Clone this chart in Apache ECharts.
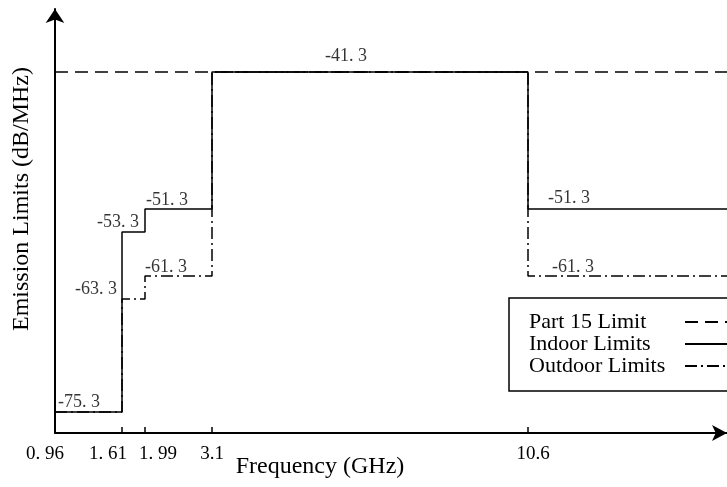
<!DOCTYPE html>
<html>
<head>
<meta charset="utf-8">
<script src="https://cdn.jsdelivr.net/npm/echarts@6/dist/echarts.min.js"></script>
<style>
  html, body { margin: 0; padding: 0; background: #fff; }
  #chart { width: 727px; height: 487px; }
</style>
</head>
<body>
<div id="chart"></div>
<script>
// UWB emission mask: band edges (GHz) and limit levels (dB/MHz) per band
const bandEdges = [0.96, 1.61, 1.99, 3.1, 10.6, 14];
const part15Limit = -41.3;
const indoorLevels = [-75.3, -53.3, -51.3, -41.3, -51.3];
const outdoorLevels = [-75.3, -63.3, -61.3, -41.3, -61.3];
const tickFreqs = [0.96, 1.61, 1.99, 3.1, 10.6];
const tickLabels = ['0. 96', '1. 61', '1. 99', '3.1', '10.6'];
const seriesNames = ['Part 15 Limit', 'Indoor Limits', 'Outdoor Limits'];

// Schematic (non-proportional) scales: each labelled band edge / level gets its own spacing
const xScale = { ghz: [0.96, 1.61, 1.99, 3.1, 10.6, 14], unit: [0, 67, 90, 157, 473, 672] };
const yScale = { db: [-77.5, -75.3, -63.3, -61.3, -53.3, -51.3, -41.3, -36.7], unit: [0, 21, 134, 157, 201, 224, 361, 424] };

function piecewise(from, to, v) {
  let i = 0;
  while (i < from.length - 2 && v > from[i + 1]) i++;
  const t = (v - from[i]) / (from[i + 1] - from[i]);
  return to[i] + t * (to[i + 1] - to[i]);
}
const X = f => piecewise(xScale.ghz, xScale.unit, f);
const Y = d => piecewise(yScale.db, yScale.unit, d);

function stepLine(levels) {
  const pts = [];
  levels.forEach((lv, i) => {
    pts.push([X(bandEdges[i]), Y(lv)]);
    pts.push([X(bandEdges[i + 1]), Y(lv)]);
  });
  return pts;
}
const fmtLevel = v => v.toFixed(1).replace('.', '. ');

const FONT = '"Liberation Serif", "Times New Roman", serif';

// Where each level annotation sits relative to its band corner
const levelNotes = [
  { f: bandEdges[0], v: indoorLevels[0],  align: 'left',  dx: 3,   dy: -10 },
  { f: bandEdges[1], v: outdoorLevels[1], align: 'right', dx: -5,  dy: -10 },
  { f: bandEdges[2], v: indoorLevels[1],  align: 'right', dx: -6,  dy: -10 },
  { f: bandEdges[2], v: indoorLevels[2],  align: 'left',  dx: 1,   dy: -9 },
  { f: bandEdges[2], v: outdoorLevels[2], align: 'left',  dx: 0,   dy: -9 },
  { f: bandEdges[3], v: part15Limit,      align: 'left',  dx: 113, dy: -16 },
  { f: bandEdges[4], v: indoorLevels[4],  align: 'left',  dx: 20,  dy: -11 },
  { f: bandEdges[4], v: outdoorLevels[4], align: 'left',  dx: 24,  dy: -9 }
];

// Tick-label nudges along the axis (rich padding shifts each label sideways)
const tickRich = {
  t0: { padding: [0, 20, 0, 0] },
  t1: { padding: [0, 28, 0, 0] },
  t2: { padding: [0, 0, 0, 26] },
  t3: { padding: [0, 0, 0, 0] },
  t4: { padding: [0, 0, 0, 10] }
};
Object.values(tickRich).forEach(s => { s.fontFamily = FONT; s.fontSize = 19; s.color = '#000'; });

const chart = echarts.init(document.getElementById('chart'), null, { renderer: 'canvas' });

chart.setOption({
  animation: false,
  backgroundColor: '#fff',
  grid: { left: 55, right: 0, top: 9, bottom: 54, outerBoundsMode: 'none' },
  xAxis: {
    type: 'value', min: 0, max: X(bandEdges[bandEdges.length - 1]),
    splitLine: { show: false },
    axisLine: { show: true, lineStyle: { color: '#000', width: 2 }, symbol: ['none', 'arrow'], symbolSize: [12, 15] },
    axisTick: { show: true, inside: true, length: 6, customValues: tickFreqs.slice(1).map(X), lineStyle: { color: '#000', width: 1.5 } },
    axisLabel: {
      customValues: tickFreqs.map(X), margin: 12,
      formatter: val => {
        const i = tickFreqs.findIndex(f => Math.abs(X(f) - val) < 1e-6);
        return i < 0 ? '' : '{t' + i + '|' + tickLabels[i] + '}';
      },
      rich: tickRich
    },
    name: 'Frequency (GHz)', nameLocation: 'middle', nameGap: 22, nameMoveOverlap: false,
    nameTextStyle: { fontFamily: FONT, fontSize: 24, color: '#000', padding: [0, 142, 0, 0] }
  },
  yAxis: {
    type: 'value', min: 0, max: 424,
    splitLine: { show: false },
    axisLine: { show: true, lineStyle: { color: '#000', width: 2 }, symbol: ['none', 'arrow'], symbolSize: [14, 14] },
    axisTick: { show: false },
    axisLabel: { show: false },
    name: 'Emission Limits (dB/MHz)', nameLocation: 'middle', nameGap: 21, nameMoveOverlap: false,
    nameTextStyle: { fontFamily: FONT, fontSize: 24, color: '#000', padding: [0, 0, 0, 44] }
  },
  legend: {
    data: seriesNames,
    orient: 'vertical', left: 509, top: 298,
    align: 'right',
    itemWidth: 45, itemHeight: 10, itemGap: 0,
    padding: [13, 10, 14, 20],
    borderColor: '#000', borderWidth: 1.5,
    selectedMode: false,
    itemStyle: { opacity: 0 },
    formatter: name => '{n|' + name + '}',
    textStyle: {
      fontFamily: FONT, fontSize: 22, color: '#000', lineHeight: 21.5,
      rich: { n: { width: 151, align: 'left', fontFamily: FONT, fontSize: 22, color: '#000', lineHeight: 21.5 } }
    }
  },
  series: [
    {
      name: seriesNames[0], type: 'line', symbol: 'none', color: '#000', silent: true, z: 2,
      lineStyle: { color: '#000', width: 1.5, type: [13, 7] },
      data: [[X(bandEdges[0]), Y(part15Limit)], [X(bandEdges[bandEdges.length - 1]), Y(part15Limit)]]
    },
    {
      name: seriesNames[2], type: 'line', symbol: 'none', color: '#000', silent: true, z: 3,
      lineStyle: { color: '#000', width: 1.5, type: [12, 4, 2, 4] },
      data: stepLine(outdoorLevels)
    },
    {
      name: seriesNames[1], type: 'line', symbol: 'none', color: '#000', silent: true, z: 4,
      lineStyle: { color: '#000', width: 1.5, type: 'solid' },
      data: stepLine(indoorLevels)
    },
    {
      name: 'levels', type: 'scatter', symbolSize: 0, silent: true, z: 5,
      data: levelNotes.map(n => ({
        value: [X(n.f), Y(n.v), n.v],
        label: { align: n.align, offset: [n.dx, n.dy] }
      })),
      label: {
        show: true, position: 'inside', verticalAlign: 'middle',
        fontFamily: FONT, fontSize: 18, color: '#000',
        formatter: p => fmtLevel(p.value[2])
      }
    }
  ]
});
</script>
</body>
</html>
